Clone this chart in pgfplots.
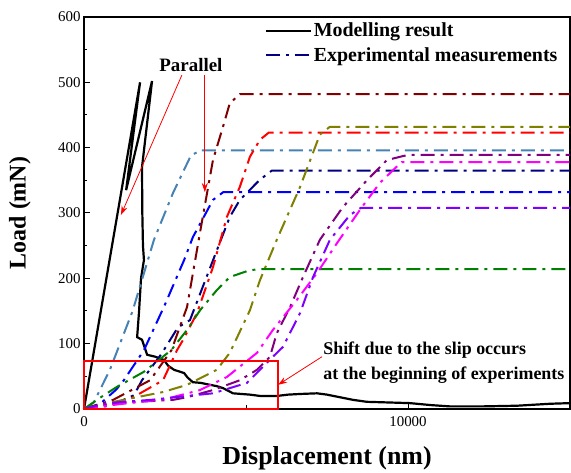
\documentclass[border=0pt]{standalone}
\usepackage{fontspec}
\setmainfont{Liberation Serif}
\usepackage{pgfplots}
\pgfplotsset{compat=1.18}
\usetikzlibrary{arrows.meta}
\definecolor{steel}{RGB}{70,130,180}
\definecolor{pureblue}{RGB}{0,0,255}
\definecolor{navyb}{RGB}{0,0,128}
\definecolor{maroon}{RGB}{128,0,0}
\definecolor{pured}{RGB}{255,0,0}
\definecolor{olive}{RGB}{128,128,0}
\definecolor{dgreen}{RGB}{0,128,0}
\definecolor{purp}{RGB}{128,0,128}
\definecolor{magent}{RGB}{255,0,255}
\definecolor{viol}{RGB}{128,0,255}
\tikzset{dd/.style={line width=2bp, dash pattern=on 14bp off 6bp on 3bp off 6bp}}
\begin{document}
\begin{tikzpicture}
\path[use as bounding box] (-84bp,-64bp) rectangle (487bp,409bp);
\begin{axis}[
  at={(0,0)}, anchor=south west,
  scale only axis, width=486bp, height=392bp,
  xmin=0, xmax=15000, ymin=0, ymax=600,
  xtick={0,10000}, minor xtick={5000},
  ytick={0,100,...,600}, minor ytick={50,150,...,550},
  tick align=inside, tick pos=left,
  major tick length=6bp, minor tick length=3.5bp,
  every tick/.style={black, line width=1bp},
  axis line style={line width=1.2bp},
  scaled ticks=false,
  /pgf/number format/set thousands separator={},
  /pgf/number format/assume math mode=true,
  tick label style={font=\fontsize{15}{18}\selectfont},
  xticklabel style={yshift=-4bp},
  xlabel={\fontsize{26}{30}\selectfont\bfseries Displacement (nm)},
  ylabel={\fontsize{24}{28}\selectfont\bfseries Load (mN)},
  xlabel style={at={(axis description cs:0.5,-0.125)}, anchor=center},
  ylabel style={at={(axis description cs:-0.132,0.5)}, anchor=center},
  legend style={draw=none, fill=none, at={(axis description cs:0.365,0.995)},
    anchor=north west, font=\fontsize{20}{24}\selectfont\bfseries,
    row sep=5bp},
  legend cell align=left,
  legend image code/.code={\draw[#1] (0bp,0bp) -- (45bp,0bp);},
  clip=false,
]
%% modelling result
\addplot[black, line width=2.2bp] coordinates {
 (0,0)(1730,500)(1300,335)(2100,502)(1790,370)(1800,300)(1820,250)(1850,228)
 (1760,200)(1700,150)(1640,110)(1790,106)(1950,83)(2200,80)(2470,75)(2600,66)
 (2780,60)(3090,55)(3200,48)(3360,41)(3600,40)(3890,37)(4100,35)(4290,32)
 (4600,24)(5120,22)(5430,20)(5960,20)(6300,22)(6670,23)(7190,24)(7500,22)
 (7900,18)(8300,14)(8730,11)(9400,10)(10060,9)(10700,6)(11290,4)(12300,4)
 (13360,5)(14380,8)(15000,9)
};
\addlegendentry{Modelling result}
%% navy
\addplot[navyb, dd] coordinates {
 (0,0)(800,5)(1540,21)(1790,44)(2400,85)(2900,125)(3270,136)(4000,230)
 (4500,294)(4810,320)(5430,351)(5800,365)(15000,365)
};
\addlegendentry{Experimental measurements}
%% steel blue
\addplot[steel, dd] coordinates {
 (0,0)(300,10)(800,60)(1500,150)(2160,259)(2750,331)(3300,388)(3600,396)(15000,396)
};
%% blue
\addplot[pureblue, dd] coordinates {
 (0,0)(500,8)(1000,30)(1230,44)(1850,90)(2500,160)(3090,228)(3360,263)
 (3980,320)(4300,332)(15000,332)
};
%% maroon
\addplot[maroon, dd] coordinates {
 (0,0)(900,14)(2040,44)(2700,90)(2960,126)(3180,156)(3580,270)(3800,331)
 (3980,381)(4290,432)(4500,468)(4810,482)(15000,482)
};
%% red
\addplot[pured, dd] coordinates {
 (0,0)(1200,9)(2440,44)(2870,90)(3060,106)(3490,147)(3980,217)(4410,294)
 (4810,340)(5120,386)(5430,412)(5700,423)(15000,423)
};
%% olive
\addplot[olive, dd] coordinates {
 (0,0)(1020,12)(2440,26)(3180,37)(4100,60)(4500,86)(5120,151)(5430,197)
 (5950,259)(6670,340)(7280,420)(7590,432)(15000,432)
};
%% green
\addplot[dgreen, dd] coordinates {
 (0,0)(520,18)(1020,34)(1850,57)(2690,90)(3180,121)(3580,151)(4100,182)
 (4500,202)(5030,211)(5340,214)(15000,214)
};
%% purple
\addplot[purp, dd] coordinates {
 (0,0)(930,9)(2750,14)(3180,18)(3980,29)(4810,44)(5340,60)(5740,80)(5950,116)
 (6360,156)(6760,202)(7280,259)(7990,309)(8730,350)(9350,381)(10000,389)(15000,389)
};
%% magenta
\addplot[magent, dd] coordinates {
 (0,0)(1020,7)(2500,15)(3580,29)(4410,49)(5340,86)(5830,121)(6570,167)
 (7190,208)(7810,254)(8520,305)(9130,346)(9800,378)(15000,378)
};
%% violet
\addplot[viol, dd] coordinates {
 (0,0)(710,9)(2070,14)(3180,20)(3980,24)(5030,40)(5830,80)(6140,95)(6670,147)
 (7070,202)(7590,259)(8210,297)(8550,308)(15000,308)
};
%% annotations
\draw[pured, line width=1.8bp] (axis cs:0,0) rectangle (axis cs:5990,73.5);
\draw[pured, line width=0.8bp, -{Stealth[length=9bp,width=6bp]}]
  (axis cs:7345,80) -- (axis cs:5990,37);
\node[anchor=west, font=\fontsize{18}{21}\selectfont\bfseries, inner sep=0pt]
  at (axis cs:7380,90) {Shift due to the slip occurs};
\node[anchor=west, font=\fontsize{18}{21}\selectfont\bfseries, inner sep=0pt]
  at (axis cs:7380,52) {at the beginning of experiments};
\node[font=\fontsize{19}{22}\selectfont\bfseries, inner sep=0pt]
  at (axis cs:3300,527) {Parallel};
\draw[pured, line width=0.8bp, -{Stealth[length=9bp,width=6bp]}]
  (axis cs:3020,511) -- (axis cs:1140,297);
\draw[pured, line width=0.8bp, -{Stealth[length=9bp,width=6bp]}]
  (axis cs:3730,511) -- (axis cs:3730,332);
\end{axis}
\end{tikzpicture}
\end{document}
